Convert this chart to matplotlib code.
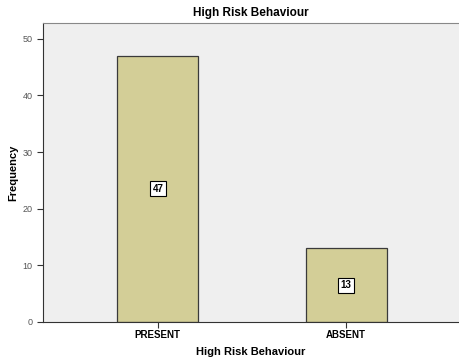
import matplotlib
matplotlib.use("Agg")
import matplotlib.pyplot as plt
import numpy as np

categories = ["PRESENT", "ABSENT"]
counts = [47, 13]
yticks = [0, 10, 20, 30, 40, 50]

plt.rcParams["font.family"] = ["Liberation Sans", "DejaVu Sans"]

fig = plt.figure(figsize=(4.59, 3.62), dpi=100)
ax = fig.add_axes([0.0937, 0.1105, 0.9063, 0.826])
ax.set_facecolor("#EFEFEF")

x = np.arange(len(categories))
ax.bar(x, counts, width=0.43, color="#D3CE97", edgecolor="#3A3A3A", lw=0.9, zorder=2)
for xi, c in zip(x, counts):
    ax.text(xi, c / 2, str(c), ha="center", va="center", fontsize=7, fontweight="bold",
            bbox=dict(boxstyle="square,pad=0.25", fc="white", ec="black", lw=0.8), zorder=3)

ax.set_xlim(-0.61, 1.6)
ax.set_ylim(0, 52.8)
ax.set_xticks(x)
ax.set_xticklabels(categories, fontsize=7, fontweight="bold")
ax.set_yticks(yticks)
ax.tick_params(axis="y", labelsize=6.5, labelcolor="#555555", length=4, color="#333333")
ax.tick_params(axis="x", length=4, color="#333333", pad=2)

ax.spines["top"].set_color("#888888")
ax.spines["right"].set_visible(False)
ax.spines["left"].set_color("#333333")
ax.spines["bottom"].set_color("#333333")

ax.set_title("High Risk Behaviour", fontsize=8.5, fontweight="bold", pad=5)
ax.set_xlabel("High Risk Behaviour", fontsize=8, fontweight="bold", labelpad=5)
ax.set_ylabel("Frequency", fontsize=8, fontweight="bold", labelpad=3)

fig.savefig("out.png", dpi=100)
